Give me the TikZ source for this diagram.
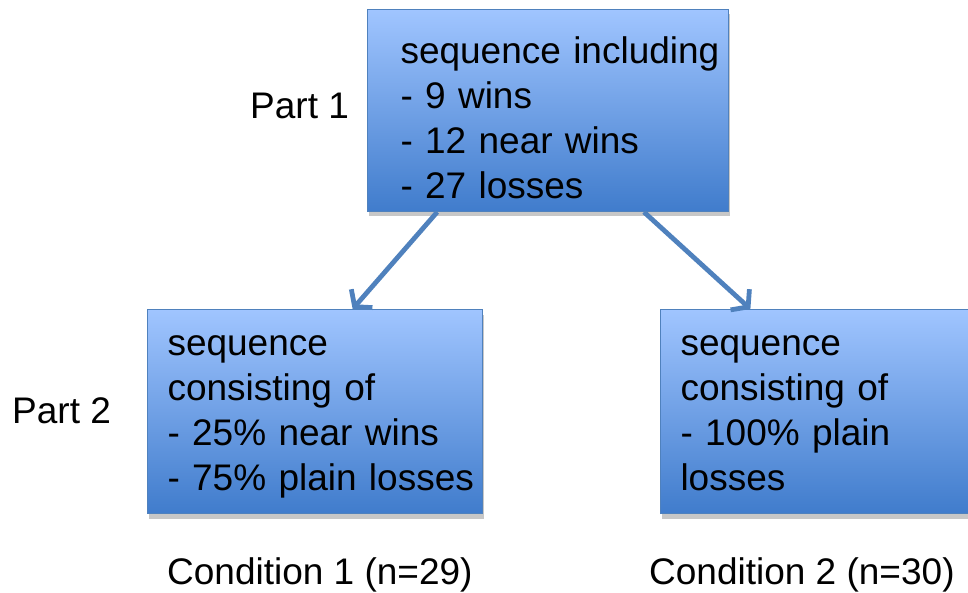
\documentclass[tikz,border=0pt]{standalone}
\usepackage{fontspec}
\setmainfont{Liberation Sans}
\usepackage{tikz}
\usetikzlibrary{arrows.meta,calc,shadows}
\definecolor{boxtop}{RGB}{160,197,255}
\definecolor{boxbottom}{RGB}{64,124,204}
\definecolor{boxline}{RGB}{79,129,189}
\definecolor{flowblue}{RGB}{79,129,189}

\begin{document}
\begin{tikzpicture}[x=1pt, y=-1pt, every node/.style={font=\fontsize{37}{45}\selectfont, inner sep=0pt},
    seqbox/.style={draw=boxline, line width=1pt, top color=boxtop, bottom color=boxbottom, align=left,
        inner ysep=0pt, inner xsep=20pt, text width=295pt,
        drop shadow={shadow xshift=1pt, shadow yshift=-5pt, fill=black!22, opacity=1}},
    flow/.style={draw=flowblue, line width=4.8pt, -{Straight Barb[length=11pt, width=28pt]}}]
        \clip (0,0) rectangle (968,593);
        % part 1
        \node[seqbox, anchor=north west, inner xsep=33pt, text height=54pt, text depth=148pt] (seqall) at (367,9)
            {\mbox{sequence including}\\\mbox{- 9 wins}\\\mbox{- 12 near wins}\\\mbox{- 27 losses}};
        \node[anchor=base west] (part1) at (250,119) {Part 1};
        % part 2
        \node[seqbox, anchor=north west, text height=46pt, text depth=158pt] (seqmix) at (147,309)
            {\mbox{sequence}\\\mbox{consisting of}\\\mbox{- 25\% near wins}\\\mbox{- 75\% plain losses}};
        \node[seqbox, anchor=north west, text height=46pt, text depth=158pt] (seqloss) at (660,309)
            {\mbox{sequence}\\\mbox{consisting of}\\\mbox{- 100\% plain}\\\mbox{losses}};
        \node[anchor=base west] (part2) at (12,423) {Part 2};
        % conditions
        \node[anchor=base west] (cond1) at (167,584) {Condition 1 (n=29)};
        \node[anchor=base west] (cond2) at (649,584) {Condition 2 (n=30)};
        \draw[flow] ($(seqall.south west)!0.194!(seqall.south east)$) -- ($(seqmix.north west)!0.612!(seqmix.north east)$);
        \draw[flow] ($(seqall.south west)!0.765!(seqall.south east)$) -- ($(seqloss.north west)!0.269!(seqloss.north east)$);
    \end{tikzpicture}
\end{document}
